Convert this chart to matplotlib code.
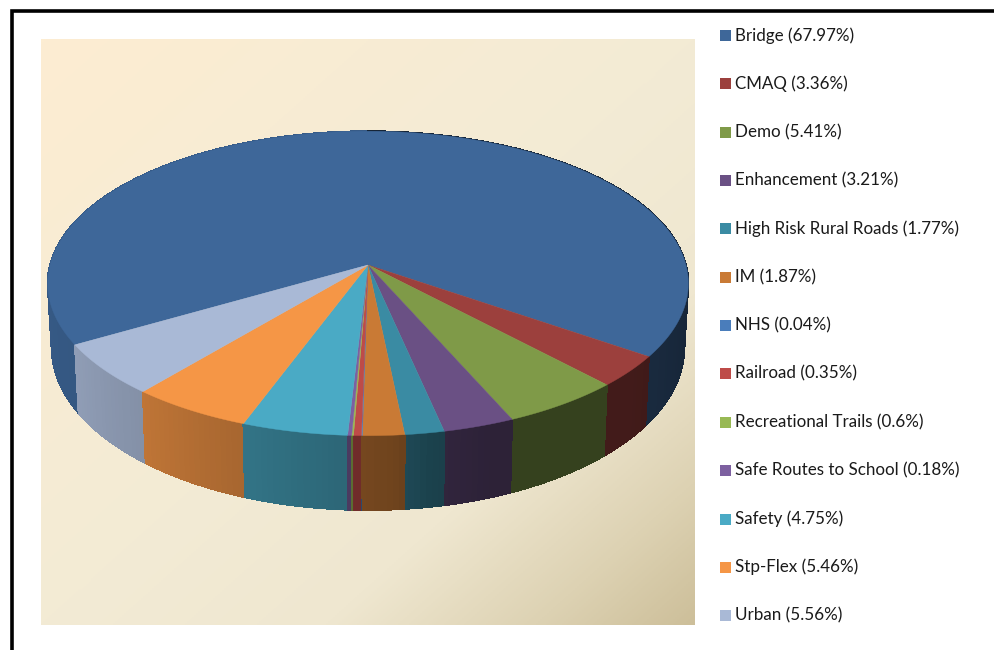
import numpy as np
import matplotlib
matplotlib.use("Agg")
import matplotlib.pyplot as plt
from matplotlib.colors import LinearSegmentedColormap, to_rgb
from matplotlib.patches import Rectangle

categories = ["Bridge", "CMAQ", "Demo", "Enhancement", "High Risk Rural Roads", "IM", "NHS",
              "Railroad", "Recreational Trails", "Safe Routes to School", "Safety", "Stp-Flex", "Urban"]
labels = [67.97, 3.36, 5.41, 3.21, 1.77, 1.87, 0.04, 0.35, 0.6, 0.18, 4.75, 5.46, 5.56]
# widths as drawn, Recreational Trails is only a hairline in the picture
slices = [67.97, 3.36, 5.41, 3.21, 1.77, 1.87, 0.04, 0.35, 0.08, 0.18, 4.75, 5.46, 5.56]
colors = ["#3e6799", "#9c403d", "#7f9a48", "#6a5084", "#3a8ba3", "#c97a35", "#4a7dbb",
          "#be4b48", "#98b954", "#7d60a0", "#4aaac5", "#f59646", "#a9b9d6"]

plt.rcParams["font.family"] = ["Lato", "DejaVu Sans"]

# pie geometry in image pixels
CX, CY = 368, 265
START = 240
K = 0.121


def project(theta, radius, height, offset):
    # theta clockwise from 12 o'clock, simple perspective on the disc
    t = np.radians(theta)
    u, v = np.sin(t), -np.cos(t)
    w = 1 - K * v
    return CX + radius * u / w, CY + offset + height * v / w


def top_edge(theta):
    return project(theta, 318, 150, 0)


def bottom_edge(theta):
    return project(theta, 314, 160, 63)


def shade(theta):
    # side walls get darker going round to the right
    a = theta % 360
    return np.interp(a, [100, 130, 160, 170, 176, 183, 200, 220, 240, 270],
                     [.36, .42, .42, .47, .55, .6, .68, .78, .85, .88])


fig = plt.figure(figsize=(9.94, 6.5), dpi=100)
ax = fig.add_axes([0, 0, 1, 1])
ax.set_xlim(0, 994)
ax.set_ylim(650, 0)
ax.axis("off")

# background gradient
cmap = LinearSegmentedColormap.from_list("bg", [(0, "#fdedd2"), (.5, "#f3ebd5"), (.72, "#efe7d0"),
                                                (.88, "#ddd2b3"), (1, "#cdbf9a")])
gx, gy = np.meshgrid(np.linspace(0, 1, 300), np.linspace(0, 1, 300))
ax.imshow((gx + gy) / 2, cmap=cmap, extent=(41, 695, 625, 39), aspect="auto", vmin=0, vmax=1, zorder=0)
ax.set_xlim(0, 994)
ax.set_ylim(650, 0)

# outer frame, only left and top are in the picture
ax.plot([12, 12, 994], [650, 10.5, 10.5], color="black", lw=2.6, solid_joinstyle="miter", zorder=1)

total = sum(slices)
edges = START + np.cumsum([0] + slices) / total * 360

# side walls, back to front
facets = []
for i, color in enumerate(colors):
    steps = np.arange(edges[i], edges[i + 1], 1.0).tolist() + [edges[i + 1]]
    for a, b in zip(steps[:-1], steps[1:]):
        facets.append((a, b, color))
facets.sort(key=lambda f: -np.cos(np.radians((f[0] + f[1]) / 2)))
for a, b, color in facets:
    x0, y0 = top_edge(np.array([a, b]))
    x1, y1 = bottom_edge(np.array([b, a]))
    c = np.array(to_rgb(color)) * shade((a + b) / 2)
    ax.fill(np.r_[x0, x1], np.r_[y0, y1], color=c, lw=0.6, antialiased=False, zorder=2)

# top of the pie
for i, color in enumerate(colors):
    arc = np.linspace(edges[i], edges[i + 1], max(int(edges[i + 1] - edges[i]) * 2, 2))
    x, y = top_edge(arc)
    ax.fill(np.r_[CX, x], np.r_[CY, y], color=color, lw=0.3, zorder=3)

# legend
for i, (name, value, color) in enumerate(zip(categories, labels, colors)):
    y = 35.5 + i * 48.35
    ax.add_patch(Rectangle((720, y - 5.5), 11, 11, facecolor=color, edgecolor="none", zorder=4))
    ax.text(735, y - 0.2, f"{name} ({value:g}%)", fontsize=12.27, color="#1a1a1a", va="center", ha="left", zorder=4)

fig.savefig("out.png", dpi=100)
